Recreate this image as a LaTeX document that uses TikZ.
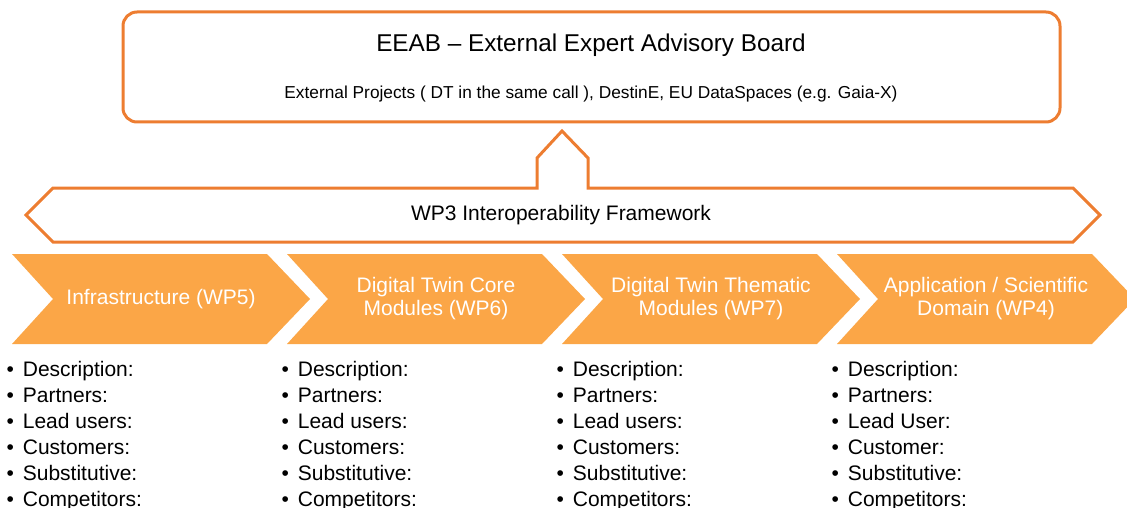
\documentclass[tikz,border=0pt]{standalone}
\usepackage{fontspec}
\setmainfont{Liberation Sans}
\usepackage{tikz}
\usetikzlibrary{positioning}
\definecolor{eeaborange}{RGB}{237,125,49}
\definecolor{wpfill}{RGB}{251,166,71}
\newcommand{\bul}{\llap{•\hspace{9pt}}}
\tikzset{
  outline/.style={draw=eeaborange, line width=3pt, line join=miter},
  chevron/.style={fill=wpfill, draw=none},
  wptext/.style={text=white, font=\fontsize{21}{23}\selectfont, align=center, inner sep=0pt},
  itemtext/.style={font=\fontsize{21}{26}\selectfont, anchor=base west, inner sep=0pt}
}

\begin{document}
\begin{tikzpicture}[x=1pt,y=-1pt]
            \useasboundingbox (0,0) rectangle (1127,508);
            \clip (0,0) rectangle (1127,508);
            % advisory board
            \draw [outline, rounded corners=14pt](123,12) rectangle (1060,122);
            \node (eeab) at (591,45) {\fontsize{24.3}{28}\selectfont EEAB – External Expert Advisory Board};
            \node (extproj) at (591,94) {\fontsize{17.3}{20}\selectfont External Projects ( DT in the same call ), DestinE, EU DataSpaces (e.g. Gaia-X)};
            % interoperability framework
            \draw [outline](26,215)--(53,188)--(537,188)--(537,158)--(562,131)--(588,158)--(588,188)--(1073,188)--(1100,215)--(1073,242)--(53,242)--cycle;
            \node (wp3) at (561,215) {\fontsize{21}{24}\selectfont WP3 Interoperability Framework};
            % work packages
            \fill [chevron](12,254)--(267,254)--(310,299)--(267,344)--(12,344)--(53,299)--cycle;
            \fill [chevron](287,254)--(542,254)--(585,299)--(542,344)--(287,344)--(328,299)--cycle;
            \fill [chevron](562,254)--(817,254)--(860,299)--(817,344)--(562,344)--(603,299)--cycle;
            \fill [chevron](837,254)--(1092,254)--(1135,299)--(1092,344)--(837,344)--(878,299)--cycle;
            \node [wptext] (wp5) at (161,299) {Infrastructure (WP5)};
            \node [wptext] (wp6) at (436,299) {Digital Twin Core\\Modules (WP6)};
            \node [wptext] (wp7) at (711,299) {Digital Twin Thematic\\Modules (WP7)};
            \node [wptext] (wp4) at (986,299) {Application / Scientific\\Domain (WP4)};
            % lists
            \foreach \t [count=\i from 0] in {Description:,Partners:,Lead users:,Customers:,Substitutive:,Competitors:}
              {
              \node [itemtext] (lista\i) at (22.7,{376+26*\i}) {\bul\t};
              \node [itemtext] (listb\i) at (297.7,{376+26*\i}) {\bul\t};
              \node [itemtext] (listc\i) at (572.7,{376+26*\i}) {\bul\t};
              }
            \foreach \t [count=\i from 0] in {Description:,Partners:,Lead User:,Customer:,Substitutive:,Competitors:}
              \node [itemtext] (listd\i) at (847.7,{376+26*\i}) {\bul\t};
            \end{tikzpicture}
\end{document}
